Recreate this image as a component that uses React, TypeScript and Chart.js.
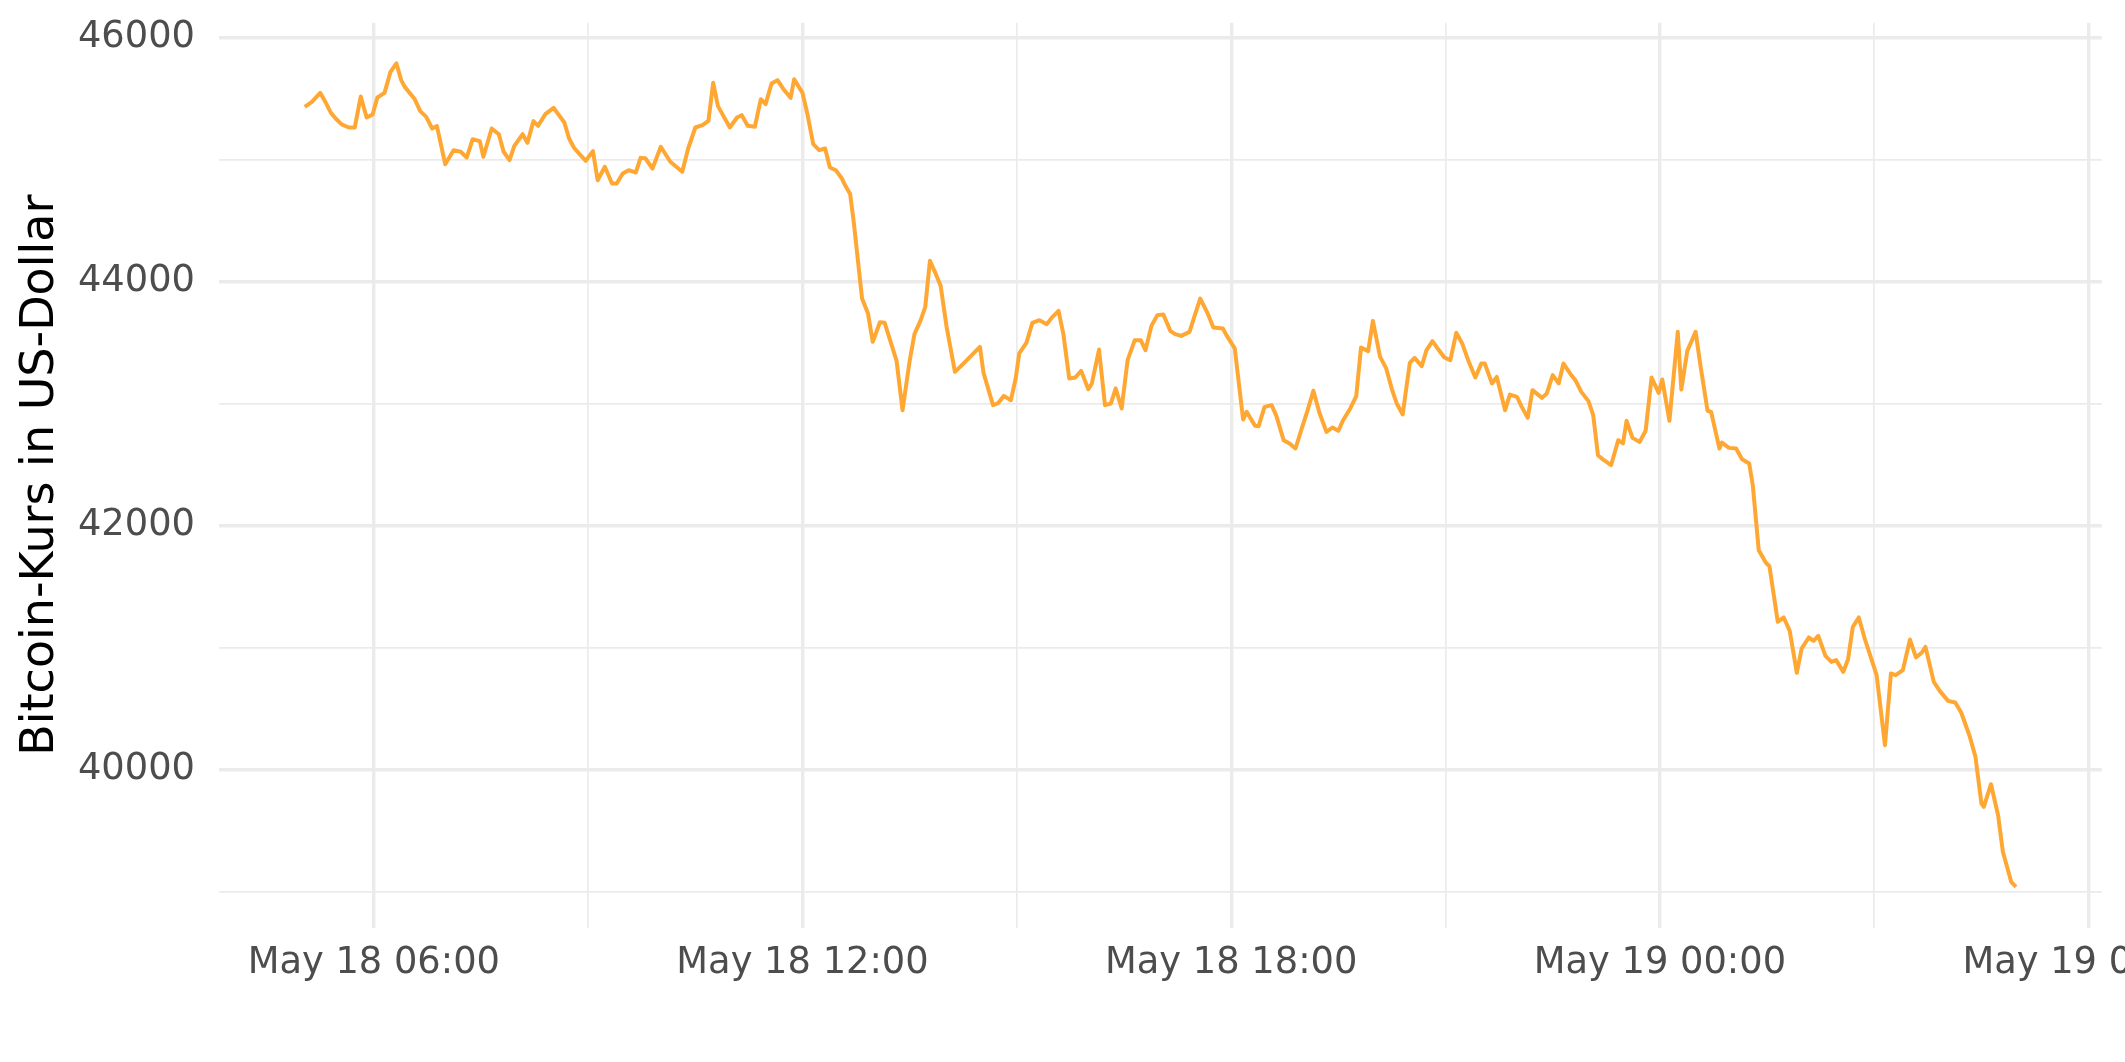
import React, { useEffect, useRef } from "react";
import { Chart, registerables } from "chart.js";

Chart.register(...registerables);

// time in minutes after May 18 00:00
const minutes = [
  302, 308, 315, 319, 324, 328, 333, 339, 344, 349, 354, 359, 363, 369, 374, 379, 383, 386, 391, 394,
  399, 404, 409, 413, 420, 427, 433, 438, 443, 449, 452, 459, 465, 469, 474, 478, 485, 489, 494, 498,
  504, 511, 515, 520, 524, 528, 533, 538, 544, 548, 554, 560, 564, 569, 574, 580, 584, 588, 594, 601,
  609, 619, 624, 630, 636, 641, 645, 649, 654, 659, 665, 669, 674, 680, 685, 689, 694, 699, 704, 710,
  713, 720, 724, 729, 734, 739, 743, 748, 753, 756, 760, 763, 770, 775, 779, 785, 789, 794, 799, 804,
  810, 814, 819, 823, 827, 832, 836, 841, 848, 853, 869, 872, 880, 884, 889, 895, 899, 902, 908, 913,
  919, 925, 930, 935, 939, 944, 949, 954, 960, 963, 969, 974, 979, 983, 988, 993, 999, 1004, 1008, 1013,
  1018, 1023, 1029, 1033, 1038, 1045, 1049, 1054, 1060, 1065, 1073, 1076, 1083, 1090, 1093, 1100, 1103, 1108, 1114, 1118,
  1124, 1129, 1134, 1139, 1144, 1149, 1154, 1160, 1165, 1170, 1174, 1180, 1185, 1189, 1195, 1199, 1205, 1210, 1215, 1219,
  1224, 1230, 1234, 1240, 1244, 1249, 1254, 1259, 1264, 1269, 1274, 1279, 1285, 1290, 1293, 1299, 1303, 1310, 1314, 1320,
  1324, 1329, 1333, 1341, 1345, 1350, 1355, 1359, 1365, 1369, 1374, 1380, 1384, 1388, 1393, 1399, 1405, 1409, 1412, 1417,
  1423, 1428, 1433, 1439, 1442, 1448, 1455, 1458, 1463, 1470, 1474, 1480, 1483, 1490, 1492, 1498, 1504, 1509, 1515, 1518,
  1523, 1529, 1532, 1539, 1544, 1549, 1555, 1559, 1565, 1569, 1573, 1579, 1584, 1588, 1594, 1598, 1602, 1607, 1612, 1617,
  1622, 1629, 1634, 1638, 1644, 1650, 1655, 1660, 1663, 1670, 1675, 1682, 1688, 1693, 1700, 1705, 1710, 1712, 1718, 1724,
  1728, 1735, 1739,
];

const prices = [
  45431, 45472, 45546, 45478, 45382, 45336, 45287, 45262, 45262, 45516, 45344, 45369, 45508, 45546, 45718, 45787, 45650, 45595, 45535, 45500,
  45396, 45349, 45254, 45273, 44961, 45076, 45063, 45016, 45166, 45150, 45022, 45254, 45207, 45063, 44994, 45112, 45207, 45136, 45314, 45276,
  45371, 45423, 45369, 45303, 45172, 45098, 45041, 44989, 45068, 44830, 44940, 44803, 44803, 44885, 44912, 44893, 45013, 45010, 44926, 45104,
  44981, 44899, 45090, 45262, 45281, 45317, 45628, 45437, 45349, 45262, 45344, 45363, 45276, 45268, 45494, 45453, 45623, 45650, 45576, 45505,
  45658, 45546, 45377, 45125, 45076, 45090, 44934, 44912, 44844, 44784, 44716, 44489, 43860, 43737, 43505, 43666, 43661, 43505, 43349, 42945,
  43349, 43568, 43677, 43787, 44169, 44060, 43964, 43628, 43259, 43306, 43464, 43251, 42986, 43000, 43062, 43027, 43205, 43410, 43497, 43661,
  43683, 43650, 43710, 43759, 43573, 43205, 43213, 43267, 43117, 43164, 43442, 42986, 43000, 43123, 42959, 43355, 43519, 43519, 43437, 43636,
  43724, 43729, 43593, 43568, 43554, 43587, 43710, 43860, 43743, 43623, 43614, 43560, 43450, 42868, 42931, 42817, 42814, 42972, 42986, 42896,
  42699, 42672, 42631, 42787, 42940, 43104, 42926, 42767, 42803, 42776, 42863, 42959, 43060, 43459, 43429, 43677, 43382, 43292, 43114, 43000,
  42910, 43333, 43374, 43306, 43437, 43511, 43442, 43377, 43355, 43579, 43491, 43355, 43213, 43327, 43327, 43164, 43218, 42945, 43073, 43054,
  42972, 42882, 43109, 43046, 43082, 43232, 43164, 43327, 43240, 43191, 43095, 43019, 42904, 42576, 42535, 42494, 42699, 42672, 42858, 42718,
  42685, 42776, 43213, 43087, 43196, 42858, 43587, 43114, 43431, 43587, 43314, 42940, 42931, 42631, 42680, 42636, 42631, 42543, 42508, 42330,
  41797, 41694, 41666, 41210, 41246, 41136, 40792, 40991, 41082, 41054, 41095, 40931, 40882, 40896, 40800, 40904, 41169, 41246, 41073, 40923,
  40773, 40199, 40787, 40773, 40814, 41065, 40918, 40959, 41005, 40718, 40644, 40562, 40549, 40467, 40276, 40103, 39721, 39694, 39879, 39625,
  39325, 39079, 39038,
];

const xMajorTicks = [360, 720, 1080, 1440, 1800];
const xTickLabels = ["May 18 06:00", "May 18 12:00", "May 18 18:00", "May 19 00:00", "May 19 06:00"];
const xMinorTicks = [540, 900, 1260, 1620];
const yMajorTicks = [40000, 42000, 44000, 46000];
const yTickLabels = ["40000", "42000", "44000", "46000"];
const yMinorTicks = [39000, 41000, 43000, 45000];

const xMin = 230;
const xMax = 1811;
const yMin = 38703;
const yMax = 46121;

const yTitle = "Bitcoin-Kurs in US-Dollar";

const W = 2125;
const H = 1062;
const FONT = "'DejaVu Sans', sans-serif";

export default function App() {
  const ref = useRef<HTMLCanvasElement | null>(null);

  useEffect(() => {
    document.body.style.margin = "0";
    document.body.style.overflow = "hidden";
    const canvas = ref.current;
    if (!canvas) return;
    const points = minutes.map((m, i) => ({ x: m, y: prices[i] }));
    const chart = new Chart(canvas, {
      type: "line",
      data: {
        datasets: [
          {
            data: points,
            borderColor: "#ffa733",
            borderWidth: 4,
            borderJoinStyle: "round",
            pointRadius: 0,
            tension: 0,
            fill: false,
          },
        ],
      },
      options: {
        animation: false,
        responsive: false,
        maintainAspectRatio: false,
        parsing: false,
        normalized: true,
        layout: { padding: { top: 22.7, right: 23.3, bottom: 0, left: 0 } },
        plugins: { legend: { display: false }, tooltip: { enabled: false } },
        scales: {
          x: {
            type: "linear",
            min: xMin,
            max: xMax,
            afterBuildTicks: (scale: any) => {
              scale.ticks = [...xMajorTicks, ...xMinorTicks].sort((a, b) => a - b).map((v) => ({ value: v }));
            },
            afterFit: (scale: any) => {
              scale.height = H - 927.7;
              scale.paddingLeft = 0;
              scale.paddingRight = 0;
            },
            ticks: {
              autoSkip: false,
              maxRotation: 0,
              minRotation: 0,
              padding: 14,
              color: "#4d4d4d",
              font: { family: FONT, size: 36.8 },
              callback: (value: any) => {
                const i = xMajorTicks.indexOf(Number(value));
                return i >= 0 ? xTickLabels[i] : "";
              },
            },
            grid: {
              color: "#ebebeb",
              lineWidth: (ctx: any) => (ctx.tick && xMajorTicks.includes(ctx.tick.value) ? 3.4 : 1.7),
              drawTicks: false,
            },
            border: { display: false },
          },
          y: {
            type: "linear",
            min: yMin,
            max: yMax,
            afterBuildTicks: (scale: any) => {
              scale.ticks = [...yMajorTicks, ...yMinorTicks].sort((a, b) => a - b).map((v) => ({ value: v }));
            },
            afterFit: (scale: any) => {
              scale.width = 219;
              scale.paddingTop = 0;
              scale.paddingBottom = 0;
            },
            ticks: {
              autoSkip: false,
              padding: 24,
              color: "#4d4d4d",
              font: { family: FONT, size: 36.8 },
              callback: (value: any) => {
                const i = yMajorTicks.indexOf(Number(value));
                return i >= 0 ? yTickLabels[i] : "";
              },
            },
            grid: {
              color: "#ebebeb",
              lineWidth: (ctx: any) => (ctx.tick && yMajorTicks.includes(ctx.tick.value) ? 3.4 : 1.7),
              drawTicks: false,
            },
            border: { display: false },
            title: {
              display: true,
              text: yTitle,
              color: "#000000",
              font: { family: FONT, size: 46 },
              padding: { top: 13.8, bottom: 0 },
            },
          },
        },
      },
    } as any);
    return () => chart.destroy();
  }, []);

  return (
    <div style={{ width: W, height: H, overflow: "hidden", background: "#ffffff" }}>
      <canvas ref={ref} width={W} height={H} style={{ width: W, height: H, display: "block" }} />
    </div>
  );
}
